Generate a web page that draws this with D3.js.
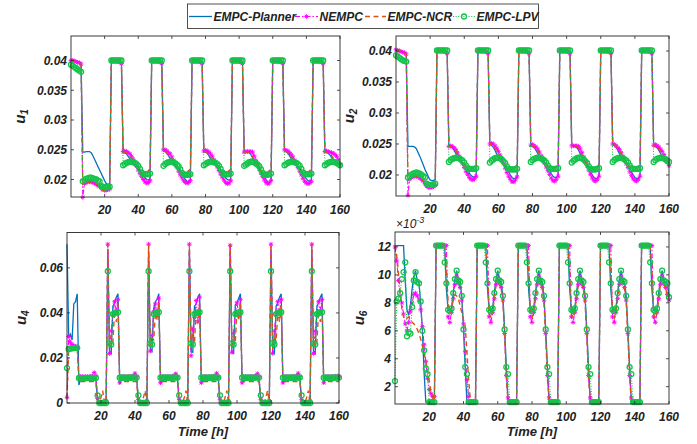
<!doctype html>
<html lang="en">
<head>
    <meta charset="UTF-8">
    <title>EMPC inputs</title>
    <script src="https://d3js.org/d3.v7.min.js" charset="utf-8"></script>
    <style>
        body { margin: 0; background: #fff; }
        text { font-family: "Liberation Sans", Arial, sans-serif; font-weight: bold; font-style: italic; fill: #222; }
    </style>
</head>
<body>
    <script>
        // hourly samples, t = 0..160 h, all values in units of 1e-3
        var u1Planner = [
            40.1,40.1,40.0,39.9,39.8,39.7,39.6, 24.6,24.6,24.7,24.7,24.7,24.5,24.0,23.4,22.8,22.2,21.6, 21.0,20.4,19.8,19.3,19.2,19.3,
            40.0,40.0,40.0,40.0,40.0,39.8,39.6, 24.5,24.5,24.3,23.9,23.5,23.1,22.8,22.6,22.4,22.1,21.7, 21.2,20.7,20.3,20.0,19.9,20.1,
            40.0,40.0,40.0,40.0,40.0,39.8,39.6, 24.8,24.7,24.4,24.0,23.5,23.0,22.6,22.4,22.2,21.9,21.5, 21.0,20.5,20.0,19.7,19.6,19.9,
            40.0,40.0,40.0,40.0,40.0,39.8,39.6, 24.6,24.6,24.4,24.0,23.5,23.1,22.8,22.6,22.4,22.1,21.7, 21.2,20.7,20.3,20.0,19.9,20.1,
            40.0,40.0,40.0,40.0,40.0,39.8,39.6, 24.6,24.6,24.6,24.5,24.2,23.6,23.0,22.6,22.3,22.0,21.6, 21.1,20.5,20.0,19.6,19.5,19.8,
            40.0,40.0,40.0,40.0,40.0,39.8,39.6, 24.8,24.7,24.4,24.0,23.5,23.0,22.6,22.4,22.2,21.9,21.5, 21.0,20.5,20.1,19.8,19.7,20.0,
            40.0,40.0,40.0,40.0,40.0,39.8,39.6, 24.6,24.6,24.4,24.1,23.7,23.3,23.0,22.8,22.6,22.5
        ];
        var u1NEMPC = [
            40.0,40.0,39.9,39.8,39.7,39.6,39.4, 17.0,19.3,19.5,19.6,19.6,19.6,19.5,19.4,19.2,19.0,18.8, 18.5,18.3,18.2,18.2,18.3,18.4,
            40.0,40.0,40.0,40.0,39.9,39.7,39.5, 24.7,24.8,24.7,24.5,24.3,23.9,23.4,22.8,22.2,21.6,21.0, 20.5,20.0,19.6,19.4,19.5,19.8,
            40.0,40.0,40.0,40.0,39.9,39.7,39.5, 25.0,25.0,24.8,24.5,24.3,23.8,23.2,22.6,22.0,21.4,20.8, 20.3,19.8,19.5,19.4,19.5,19.8,
            40.0,40.0,40.0,40.0,39.9,39.7,39.5, 24.8,24.9,24.8,24.6,24.3,23.9,23.3,22.7,22.1,21.5,20.9, 20.4,19.9,19.5,19.3,19.4,19.8,
            40.0,40.0,40.0,40.0,39.9,39.7,39.5, 24.6,24.7,24.7,24.7,24.7,24.6,23.9,23.2,22.5,21.8,21.1, 20.5,19.9,19.5,19.3,19.4,19.8,
            40.0,40.0,40.0,40.0,39.9,39.7,39.5, 25.0,24.9,24.8,24.5,24.2,23.8,23.2,22.6,22.0,21.4,20.8, 20.2,19.7,19.4,19.3,19.4,19.7,
            40.0,40.0,40.0,40.0,39.9,39.7,39.5, 24.7,24.8,24.7,24.6,24.5,24.4,24.2,23.9,23.3,22.5
        ];
        var u1NCR = [
            40.0,40.0,39.9,39.8,39.7,39.6,39.4, 19.2,19.3,19.4,19.5,19.6,19.6,19.5,19.4,19.3,19.1,18.8, 18.3,18.2,18.2,18.2,18.2,18.3,
            40.0,40.0,40.0,40.0,39.9,39.7,39.5, 24.6,24.6,24.5,24.3,24.0,23.6,23.1,22.6,22.1,21.7,21.4, 21.2,21.1,21.1,21.2,21.5,21.7,
            40.0,40.0,40.0,40.0,39.9,39.7,39.5, 24.8,24.7,24.5,24.2,23.9,23.5,23.0,22.5,22.0,21.6,21.3, 21.1,21.0,21.0,21.2,21.5,21.7,
            40.0,40.0,40.0,40.0,39.9,39.7,39.5, 24.7,24.7,24.5,24.3,24.0,23.6,23.1,22.6,22.1,21.7,21.4, 21.2,21.1,21.1,21.2,21.5,21.7,
            40.0,40.0,40.0,40.0,39.9,39.7,39.5, 24.6,24.6,24.6,24.5,24.3,23.8,23.2,22.6,22.1,21.7,21.4, 21.2,21.0,21.0,21.2,21.5,21.7,
            40.0,40.0,40.0,40.0,39.9,39.7,39.5, 24.8,24.7,24.5,24.2,23.9,23.5,23.0,22.5,22.0,21.6,21.3, 21.1,21.0,21.0,21.2,21.5,21.7,
            40.0,40.0,40.0,40.0,39.9,39.7,39.5, 24.6,24.6,24.5,24.3,24.0,23.6,23.1,22.6,22.1,21.8
        ];
        var u1LPV = [
            39.3,39.1,38.9,38.7,38.5,38.3,38.1, 19.7,19.9,20.1,20.2,20.3,20.3,20.2,20.1,20.0,19.8,19.7, 18.9,18.8,18.7,18.7,18.7,18.8,
            40.0,40.0,40.0,40.0,40.0,40.0,40.0, 22.4,22.6,22.8,22.9,23.0,23.0,22.9,22.8,22.6,22.3,21.8, 21.2,20.9,20.9,20.9,20.9,21.0,
            40.0,40.0,40.0,40.0,40.0,40.0,40.0, 22.3,22.6,22.8,22.9,23.0,23.0,22.9,22.7,22.5,22.2,21.7, 21.1,20.8,20.8,20.8,20.8,20.9,
            40.0,40.0,40.0,40.0,40.0,40.0,40.0, 22.4,22.6,22.8,22.9,23.0,23.0,22.9,22.8,22.6,22.3,21.8, 21.2,20.9,20.9,20.9,20.9,21.0,
            40.0,40.0,40.0,40.0,40.0,40.0,40.0, 22.3,22.5,22.7,22.9,23.0,23.0,22.9,22.7,22.5,22.2,21.7, 21.1,20.8,20.8,20.8,20.9,21.0,
            40.0,40.0,40.0,40.0,40.0,40.0,40.0, 22.4,22.6,22.8,22.9,23.0,23.0,22.9,22.8,22.6,22.3,21.8, 21.2,20.9,20.9,20.9,20.9,21.0,
            40.0,40.0,40.0,40.0,40.0,40.0,40.0, 22.4,22.6,22.8,22.9,23.0,23.0,22.9,22.8,22.6,22.4
        ];

        var u2Planner = [
            40.2,40.2,40.1,40.0,39.9,39.8,39.7, 24.6,24.6,24.6,24.6,24.5,24.2,23.6,23.0,22.3,21.6,20.9, 20.3,19.7,19.2,19.1,19.1,19.3,
            40.1,40.1,40.1,40.1,40.1,39.9,39.7, 24.6,24.6,24.4,24.0,23.5,23.0,22.6,22.3,22.0,21.7,21.3, 20.8,20.3,19.9,19.7,19.7,19.9,
            40.1,40.1,40.1,40.1,40.1,39.9,39.7, 24.9,24.8,24.5,24.0,23.4,22.9,22.5,22.2,21.9,21.5,21.0, 20.5,20.0,19.6,19.4,19.5,19.8,
            40.1,40.1,40.1,40.1,40.1,39.9,39.7, 24.7,24.7,24.4,24.0,23.5,23.0,22.6,22.3,22.0,21.7,21.3, 20.8,20.2,19.8,19.6,19.6,19.9,
            40.1,40.1,40.1,40.1,40.1,39.9,39.7, 24.7,24.7,24.6,24.4,24.0,23.4,22.8,22.4,22.1,21.7,21.2, 20.6,20.0,19.6,19.4,19.5,19.8,
            40.1,40.1,40.1,40.1,40.1,39.9,39.7, 24.9,24.8,24.5,24.0,23.4,22.9,22.5,22.2,21.9,21.5,21.0, 20.5,20.0,19.6,19.4,19.5,19.8,
            40.1,40.1,40.1,40.1,40.1,39.9,39.7, 24.6,24.6,24.4,24.0,23.5,23.0,22.6,22.4,22.2,22.0
        ];
        var u2NEMPC = [
            40.2,40.1,40.0,39.9,39.8,39.7,39.5, 16.7,19.3,19.6,19.7,19.8,19.8,19.7,19.5,19.3,19.0,18.6, 18.2,18.0,18.0,18.0,18.1,18.3,
            40.1,40.1,40.1,40.1,40.0,39.8,39.6, 24.6,24.7,24.6,24.4,24.1,23.6,23.0,22.4,21.8,21.2,20.6, 20.1,19.6,19.3,19.2,19.4,19.8,
            40.1,40.1,40.1,40.1,40.0,39.8,39.6, 25.0,25.1,25.0,24.7,24.3,23.8,23.2,22.5,21.8,21.1,20.4, 19.8,19.3,18.9,18.9,19.2,19.7,
            40.1,40.1,40.1,40.1,40.0,39.8,39.6, 24.8,24.9,24.7,24.5,24.2,23.7,23.1,22.5,21.9,21.3,20.7, 20.1,19.5,19.1,19.0,19.3,19.8,
            40.1,40.1,40.1,40.1,40.0,39.8,39.6, 24.7,24.7,24.7,24.7,24.6,24.2,23.6,22.9,22.2,21.5,20.8, 20.1,19.5,19.1,19.0,19.3,19.8,
            40.1,40.1,40.1,40.1,40.0,39.8,39.6, 25.0,24.9,24.7,24.4,24.1,23.6,23.0,22.4,21.8,21.2,20.5, 19.9,19.4,19.1,19.0,19.3,19.8,
            40.1,40.1,40.1,40.1,40.0,39.8,39.6, 24.8,24.9,24.7,24.5,24.2,23.8,23.3,22.7,22.1,21.5
        ];
        var u2NCR = [
            40.2,40.1,40.0,39.9,39.8,39.7,39.5, 19.2,19.4,19.6,19.7,19.8,19.8,19.7,19.5,19.3,19.0,18.6, 18.2,18.0,18.0,18.0,18.1,18.3,
            40.1,40.1,40.1,40.1,40.0,39.8,39.6, 24.6,24.6,24.5,24.3,24.0,23.5,23.0,22.5,22.0,21.6,21.3, 21.1,21.0,21.0,21.1,21.4,21.6,
            40.1,40.1,40.1,40.1,40.0,39.8,39.6, 24.9,24.9,24.7,24.4,24.0,23.5,22.9,22.4,21.9,21.5,21.2, 21.0,20.9,20.9,21.1,21.4,21.6,
            40.1,40.1,40.1,40.1,40.0,39.8,39.6, 24.7,24.7,24.6,24.3,24.0,23.5,23.0,22.5,22.0,21.6,21.3, 21.1,21.0,21.0,21.1,21.4,21.6,
            40.1,40.1,40.1,40.1,40.0,39.8,39.6, 24.7,24.7,24.7,24.6,24.4,23.9,23.3,22.7,22.1,21.7,21.3, 21.1,21.0,21.0,21.1,21.4,21.6,
            40.1,40.1,40.1,40.1,40.0,39.8,39.6, 24.9,24.8,24.6,24.3,24.0,23.5,23.0,22.5,22.0,21.6,21.3, 21.1,21.0,21.0,21.1,21.4,21.6,
            40.1,40.1,40.1,40.1,40.0,39.8,39.6, 24.6,24.6,24.5,24.3,24.0,23.5,23.0,22.5,22.0,21.7
        ];
        var u2LPV = [
            39.3,39.1,38.9,38.7,38.5,38.4,38.3, 19.6,19.8,20.0,20.2,20.3,20.4,20.3,20.2,20.0,19.8,19.6, 18.6,18.4,18.4,18.4,18.5,18.6,
            40.1,40.1,40.1,40.1,40.1,40.1,40.1, 22.1,22.4,22.6,22.7,22.8,22.8,22.7,22.5,22.3,22.0,21.5, 21.1,21.0,21.0,21.0,21.0,21.1,
            40.1,40.1,40.1,40.1,40.1,40.1,40.1, 22.0,22.3,22.5,22.7,22.8,22.8,22.7,22.5,22.2,21.9,21.4, 21.0,20.9,20.9,20.9,20.9,21.0,
            40.1,40.1,40.1,40.1,40.1,40.1,40.1, 22.1,22.4,22.6,22.7,22.8,22.8,22.7,22.5,22.3,22.0,21.5, 21.1,21.0,21.0,21.0,21.0,21.1,
            40.1,40.1,40.1,40.1,40.1,40.1,40.1, 22.0,22.3,22.5,22.7,22.8,22.8,22.7,22.5,22.2,21.9,21.4, 21.0,20.9,20.9,20.9,21.0,21.1,
            40.1,40.1,40.1,40.1,40.1,40.1,40.1, 22.1,22.4,22.6,22.7,22.8,22.8,22.7,22.5,22.3,22.0,21.5, 21.1,21.0,21.0,21.0,21.0,21.1,
            40.1,40.1,40.1,40.1,40.1,40.1,40.1, 22.1,22.4,22.6,22.7,22.8,22.8,22.7,22.5,22.3,22.1
        ];

        var u4Planner = [
            70.5,29.0,30.5,28.0,44.0,45.0,48.5, 8.0,10.8,10.9,10.9,10.9,10.9,10.9,10.9,10.9,10.9,10.8, 0,0,0,0,0,0,
            68.0,23.0,22.0,43.0,44.5,47.0,48.5, 8.5,10.9,10.9,10.9,10.9,10.9,10.9,10.9,10.9,10.9,10.8, 0,0,0,0,0,0,
            67.0,24.0,23.0,42.0,45.0,46.0,48.5, 8.5,10.9,10.9,10.9,10.9,10.9,10.9,10.9,10.9,10.9,10.8, 0,0,0,0,0,0,
            68.0,23.0,22.5,43.0,44.0,47.0,48.5, 8.5,10.9,10.9,10.9,10.9,10.9,10.9,10.9,10.9,10.9,10.8, 0,0,0,0,0,0,
            70.5,22.5,22.0,43.5,44.5,46.5,48.5, 8.5,10.9,10.9,10.9,10.9,10.9,10.9,10.9,10.9,10.9,10.8, 0,0,0,0,0,0,
            68.0,23.0,22.0,43.0,44.5,47.0,48.5, 8.5,10.9,10.9,10.9,10.9,10.9,10.9,10.9,10.9,10.9,10.8, 0,0,0,0,0,0,
            68.0,23.0,22.0,43.0,44.5,47.0,48.5, 8.5,10.9,10.9,10.9,10.9,10.9,10.9,10.9,10.9,10.9
        ];
        var u4NEMPC = [
            2.5,29.5,27.0,26.0,25.5,25.2,25.0, 11.5,11.8,11.7,11.6,11.8,11.7,11.6,11.8,12.0,13.5,12.2, 2.0,0.3,0.2,0.2,0.5,1.0,
            70.5,22.0,32.0,39.5,45.0,41.0,46.0, 9.0,11.6,11.8,11.7,11.6,11.8,11.7,11.9,12.0,13.2,11.8, 1.5,0.3,0.2,0.2,0.4,1.0,
            70.5,23.0,30.0,40.5,44.0,38.5,46.5, 9.0,11.7,11.8,11.6,11.7,11.8,11.6,11.8,12.1,13.0,11.7, 1.5,0.3,0.2,0.2,0.4,1.0,
            70.5,21.0,33.0,38.0,45.5,36.0,47.0, 9.0,11.6,11.8,11.7,11.6,11.8,11.7,11.9,12.0,13.2,11.8, 1.5,0.3,0.2,0.2,0.4,1.0,
            70.0,22.5,31.0,40.0,44.5,39.0,46.0, 9.0,11.7,11.8,11.6,11.7,11.8,11.6,11.8,12.1,13.0,11.7, 1.5,0.3,0.2,0.2,0.4,1.0,
            70.5,22.0,32.0,39.5,45.0,41.0,46.0, 9.0,11.6,11.8,11.7,11.6,11.8,11.7,11.9,12.0,13.2,11.8, 1.5,0.3,0.2,0.2,0.4,1.0,
            70.5,22.0,32.0,39.5,45.0,41.0,46.0, 9.0,11.6,11.8,11.7,11.6,11.8,11.7,11.9,12.0,11.8
        ];
        var u4NCR = [
            2.0,24.0,24.2,24.3,24.4,24.5,24.5, 9.5,9.5,9.5,9.5,9.5,9.5,9.5,9.5,9.5,9.5,9.5, 0,0,2.5,5.5,0,0,
            70.5,24.0,30.0,27.0,41.0,36.0,44.0, 9.5,9.5,9.5,9.5,9.5,9.5,9.5,9.5,9.5,9.5,9.5, 0,0,0,2.5,5.5,0,
            70.5,25.0,29.0,28.0,40.0,37.0,44.5, 9.5,9.5,9.5,9.5,9.5,9.5,9.5,9.5,9.5,9.5,9.5, 0,0,0,2.5,5.5,0,
            70.5,24.0,31.0,26.5,41.5,35.5,44.0, 9.5,9.5,9.5,9.5,9.5,9.5,9.5,9.5,9.5,9.5,9.5, 0,0,0,2.5,5.5,0,
            70.5,24.5,30.0,27.0,41.0,36.5,44.5, 9.5,9.5,9.5,9.5,9.5,9.5,9.5,9.5,9.5,9.5,9.5, 0,0,0,2.5,5.5,0,
            70.5,24.0,30.0,27.0,41.0,36.0,44.0, 9.5,9.5,9.5,9.5,9.5,9.5,9.5,9.5,9.5,9.5,9.5, 0,0,0,2.5,5.5,0,
            70.5,24.0,30.0,27.0,41.0,36.0,44.0, 9.5,9.5,9.5,9.5,9.5,9.5,9.5,9.5,9.5,9.5
        ];
        var u4LPV = [
            15.5,24.0,24.2,24.3,24.4,24.5,24.5, 11.0,11.0,11.0,11.0,11.0,11.1,11.1,11.1,11.1,11.1,11.1, 3.4,0,0,0,0,0,
            58.5,26.5,26.0,39.5,40.0,40.2,40.3, 11.2,11.2,11.2,11.2,11.2,11.2,11.2,11.2,11.3,11.3,11.3, 3.4,0,0,0,0,0,
            58.5,26.5,26.0,39.5,40.0,40.2,40.3, 11.2,11.2,11.2,11.2,11.2,11.2,11.2,11.2,11.3,11.3,11.3, 3.4,0,0,0,0,0,
            58.5,26.5,26.0,39.5,40.0,40.2,40.3, 11.2,11.2,11.2,11.2,11.2,11.2,11.2,11.2,11.3,11.3,11.3, 3.4,0,0,0,0,0,
            58.5,26.5,26.0,39.5,40.0,40.2,40.3, 11.2,11.2,11.2,11.2,11.2,11.2,11.2,11.2,11.3,11.3,11.3, 3.4,0,0,0,0,0,
            58.5,26.5,26.0,39.5,40.0,40.2,40.3, 11.2,11.2,11.2,11.2,11.2,11.2,11.2,11.2,11.3,11.3,11.3, 3.4,0,0,0,0,0,
            58.5,26.5,26.0,39.5,40.0,40.2,40.3, 11.2,11.2,11.2,11.2,11.2,11.2,11.2,11.2,11.3,11.3
        ];

        var u6Planner = [
            12.1,12.1,12.1,12.1,12.1,12.1,9.5, 7.5,7.1,7.8,9.0,9.9,10.3,9.6,9.4,8.0,6.0,3.0, 0.9,0.9,0.9,0.9,0.9,0.9,
            12.1,12.1,12.1,12.1,12.1,12.1,9.0, 7.5,7.4,7.6,8.7,9.7,10.3,9.6,9.5,8.5,6.1,3.4, 0.9,0.9,0.9,0.9,0.9,0.9,
            12.1,12.1,12.1,12.1,12.1,12.1,9.0, 7.5,7.4,7.6,8.7,9.7,10.3,9.6,9.5,8.5,6.1,3.4, 0.9,0.9,0.9,0.9,0.9,0.9,
            12.1,12.1,12.1,12.1,12.1,12.1,9.0, 7.5,7.4,7.6,8.7,9.7,10.3,9.6,9.5,8.5,6.1,3.4, 0.9,0.9,0.9,0.9,0.9,0.9,
            12.1,12.1,12.1,12.1,12.1,12.1,9.0, 7.5,7.4,7.6,8.7,9.7,10.3,9.6,9.5,8.5,6.1,3.4, 0.9,0.9,0.9,0.9,0.9,0.9,
            12.1,12.1,12.1,12.1,12.1,12.1,9.0, 7.5,7.4,7.6,8.7,9.7,10.3,9.6,9.5,8.5,6.1,3.4, 0.9,0.9,0.9,0.9,0.9,0.9,
            12.1,12.1,12.1,12.1,12.1,12.1,9.0, 7.5,7.4,7.6,8.7,9.7,10.3,9.6,9.5,9.4,8.4
        ];
        var u6NEMPC = [
            12.0,11.0,9.6,8.5,8.0,7.2,6.5, 6.0,6.6,7.4,8.0,8.6,8.7,8.5,8.2,7.5,6.3,5.0, 3.8,2.6,1.8,1.5,1.3,1.3,
            12.1,12.1,12.1,12.1,12.1,12.1,12.1, 7.0,6.6,7.3,8.3,9.3,9.9,9.4,9.1,8.2,6.5,4.5, 2.5,1.3,0.9,0.9,0.9,0.9,
            12.1,12.1,12.1,12.1,12.1,12.1,12.1, 7.0,6.6,7.3,8.3,9.3,9.9,9.4,9.1,8.2,5.8,2.8, 1.2,0.9,0.9,0.9,0.9,0.9,
            12.1,12.1,12.1,12.1,12.1,12.1,12.1, 7.0,6.6,7.3,8.3,9.3,9.9,9.4,9.1,8.2,5.8,2.8, 1.2,0.9,0.9,0.9,0.9,0.9,
            12.1,12.1,12.1,12.1,12.1,12.1,12.1, 7.0,6.6,7.3,8.3,9.3,9.9,9.4,9.1,8.2,5.8,2.8, 1.2,0.9,0.9,0.9,0.9,0.9,
            12.1,12.1,12.1,12.1,12.1,12.1,12.1, 7.0,6.6,7.3,8.3,9.3,9.9,9.4,9.1,8.2,5.8,2.8, 1.2,0.9,0.9,0.9,0.9,0.9,
            12.1,12.1,12.1,12.1,12.1,12.1,12.1, 7.0,6.6,7.3,8.3,9.3,9.9,9.4,9.1,8.6,8.2
        ];
        var u6NCR = [
            12.1,11.4,10.2,8.8,7.6,7.0,6.8, 6.9,7.0,6.8,6.6,6.5,6.3,6.1,5.8,5.4,4.9,4.4, 3.8,3.2,2.4,1.6,1.2,1.0,
            12.1,12.1,12.1,12.1,12.1,12.1,10.5, 8.0,7.3,7.6,8.2,8.6,8.5,8.3,7.8,7.3,6.8,6.3, 4.5,2.5,1.0,0.9,0.9,0.9,
            12.1,12.1,12.1,12.1,12.1,12.1,10.5, 7.2,6.9,7.4,8.4,9.3,9.8,9.3,9.0,8.0,5.6,2.6, 1.0,0.9,0.9,0.9,0.9,0.9,
            12.1,12.1,12.1,12.1,12.1,12.1,10.5, 7.2,6.9,7.4,8.4,9.3,9.8,9.3,9.0,8.0,5.6,2.6, 1.0,0.9,0.9,0.9,0.9,0.9,
            12.1,12.1,12.1,12.1,12.1,12.1,10.5, 7.2,6.9,7.4,8.4,9.3,9.8,9.3,9.0,8.0,5.6,2.6, 1.0,0.9,0.9,0.9,0.9,0.9,
            12.1,12.1,12.1,12.1,12.1,12.1,10.5, 7.2,6.9,7.4,8.4,9.3,9.8,9.3,9.0,8.0,5.6,2.6, 1.0,0.9,0.9,0.9,0.9,0.9,
            12.1,12.1,12.1,12.1,12.1,12.1,10.5, 7.2,6.9,7.4,8.4,9.3,9.8,9.3,9.0,8.6,8.2
        ];
        var u6LPV = [
            2.4,8.1,8.3,8.7,9.7,10.2,10.9, 5.6,5.9,5.8,7.7,9.6,10.2,9.5,9.4,8.1,6.0,4.6, 3.3,2.9,0.9,0.9,0.9,0.9,
            12.1,12.1,12.1,12.1,12.1,10.9,9.4, 7.5,7.4,7.6,8.7,9.7,10.3,9.6,9.5,8.5,6.1,3.4, 2.9,0.9,0.9,0.9,0.9,0.9,
            12.1,12.1,12.1,12.1,12.1,10.9,9.4, 7.5,7.4,7.6,8.7,9.7,10.3,9.6,9.5,8.5,6.1,3.4, 2.9,0.9,0.9,0.9,0.9,0.9,
            12.1,12.1,12.1,12.1,12.1,10.9,9.4, 7.5,7.4,7.6,8.7,9.7,10.3,9.6,9.5,8.5,6.1,3.4, 2.9,0.9,0.9,0.9,0.9,0.9,
            12.1,12.1,12.1,12.1,12.1,10.9,9.4, 7.5,7.4,7.6,8.7,9.7,10.3,9.6,9.5,8.5,6.1,3.4, 2.9,0.9,0.9,0.9,0.9,0.9,
            12.1,12.1,12.1,12.1,12.1,10.9,9.4, 7.5,7.4,7.6,8.7,9.7,10.3,9.6,9.5,8.5,6.1,3.4, 2.9,0.9,0.9,0.9,0.9,0.9,
            12.1,12.1,12.1,12.1,12.1,10.9,9.4, 7.5,7.4,7.6,8.7,9.7,10.3,9.6,9.5,9.4,8.4
        ];

        var seriesNames = ["EMPC-Planner", "NEMPC", "EMPC-NCR", "EMPC-LPV"];
        var xTicks = [20, 40, 60, 80, 100, 120, 140, 160];
        var u1Ticks = [20, 25, 30, 35, 40], u1TickLabels = ["0.02", "0.025", "0.03", "0.035", "0.04"];
        var u2Ticks = [20, 25, 30, 35, 40], u2TickLabels = ["0.02", "0.025", "0.03", "0.035", "0.04"];
        var u4Ticks = [0, 20, 40, 60], u4TickLabels = ["0", "0.02", "0.04", "0.06"];
        var u6Ticks = [2, 4, 6, 8, 10, 12], u6TickLabels = ["2", "4", "6", "8", "10", "12"];

        var width = 697, height = 444;
        var styles = [
            { color: "#0072BD", width: 1.3, dash: null },
            { color: "#FF00FF", width: 1.1, dash: "5,2,1.5,2" },
            { color: "#D95319", width: 1.4, dash: "5,3.5" },
            { color: "#14c44a", width: 1.1, dash: "1,1.6" }
        ];

        var panels = [
            { sub: "1", data: [u1Planner, u1NEMPC, u1NCR, u1LPV], left: 71, right: 340, top: 36, bottom: 197,
              yDomain: [17.06, 44.12], ticks: u1Ticks, labels: u1TickLabels, labelX: 25 },
            { sub: "2", data: [u2Planner, u2NEMPC, u2NCR, u2LPV], left: 396, right: 669, top: 36, bottom: 196,
              yDomain: [16.61, 42.42], ticks: u2Ticks, labels: u2TickLabels, labelX: 354 },
            { sub: "4", data: [u4Planner, u4NEMPC, u4NCR, u4LPV], left: 67, right: 339, top: 232.5, bottom: 403,
              yDomain: [0, 75.7], ticks: u4Ticks, labels: u4TickLabels, labelX: 26, xlabel: true },
            { sub: "6", data: [u6Planner, u6NEMPC, u6NCR, u6LPV], left: 395, right: 669, top: 232, bottom: 404,
              yDomain: [0.76, 13.07], ticks: u6Ticks, labels: u6TickLabels, labelX: 364, xlabel: true, exponent: true }
        ];

        var svg = d3.select("body").append("svg")
            .attr("width", width)
            .attr("height", height);

        var star = "M-2.3,0H2.3M0,-2.3V2.3M-1.7,-1.7L1.7,1.7M-1.7,1.7L1.7,-1.7";

        panels.forEach(function(p) {
            var x = d3.scaleLinear().domain([0, 160]).range([p.left, p.right]);
            var y = d3.scaleLinear().domain(p.yDomain).range([p.bottom, p.top]);
            var g = svg.append("g");

            var line = d3.line()
                .x(function(d, i) { return x(i); })
                .y(function(d) { return y(d); });

            p.data.forEach(function(values, k) {
                var s = styles[k];
                g.append("path")
                    .datum(values)
                    .attr("d", line)
                    .attr("fill", "none")
                    .attr("stroke", s.color)
                    .attr("stroke-width", s.width)
                    .attr("stroke-dasharray", s.dash);

                if (k === 1) { // NEMPC markers
                    g.selectAll(null)
                        .data(values)
                        .enter()
                        .append("path")
                        .attr("d", star)
                        .attr("transform", function(d, i) { return "translate(" + x(i) + "," + y(d) + ")"; })
                        .attr("stroke", s.color)
                        .attr("stroke-width", 0.9)
                        .attr("fill", "none");
                }
                if (k === 3) { // LPV markers
                    g.selectAll(null)
                        .data(values)
                        .enter()
                        .append("circle")
                        .attr("cx", function(d, i) { return x(i); })
                        .attr("cy", function(d) { return y(d); })
                        .attr("r", 2.5)
                        .attr("fill", "none")
                        .attr("stroke", s.color)
                        .attr("stroke-width", 1.3);
                }
            });

            // box and inward ticks on all four sides
            g.append("rect")
                .attr("x", p.left).attr("y", p.top)
                .attr("width", p.right - p.left).attr("height", p.bottom - p.top)
                .attr("fill", "none").attr("stroke", "#262626").attr("stroke-width", 0.9);

            xTicks.forEach(function(t) {
                g.append("line").attr("x1", x(t)).attr("x2", x(t)).attr("y1", p.bottom).attr("y2", p.bottom - 3)
                    .attr("stroke", "#262626").attr("stroke-width", 0.8);
                g.append("line").attr("x1", x(t)).attr("x2", x(t)).attr("y1", p.top).attr("y2", p.top + 3)
                    .attr("stroke", "#262626").attr("stroke-width", 0.8);
                g.append("text").attr("x", x(t)).attr("y", p.bottom + 17)
                    .attr("text-anchor", "middle").attr("font-size", 12).text(t);
            });

            p.ticks.forEach(function(t, i) {
                g.append("line").attr("x1", p.left).attr("x2", p.left + 3).attr("y1", y(t)).attr("y2", y(t))
                    .attr("stroke", "#262626").attr("stroke-width", 0.8);
                g.append("line").attr("x1", p.right).attr("x2", p.right - 3).attr("y1", y(t)).attr("y2", y(t))
                    .attr("stroke", "#262626").attr("stroke-width", 0.8);
                g.append("text").attr("x", p.left - 4).attr("y", y(t)).attr("dy", "0.36em")
                    .attr("text-anchor", "end").attr("font-size", 12).text(p.labels[i]);
            });

            var yl = g.append("text")
                .attr("transform", "translate(" + p.labelX + "," + ((p.top + p.bottom) / 2) + ") rotate(-90)")
                .attr("text-anchor", "middle")
                .attr("font-size", 15);
            yl.append("tspan").text("u");
            yl.append("tspan").attr("font-size", 10).attr("dy", 3).text(p.sub);

            if (p.xlabel) {
                g.append("text")
                    .attr("x", (p.left + p.right) / 2)
                    .attr("y", 435.5)
                    .attr("text-anchor", "middle")
                    .attr("font-size", 13)
                    .text("Time [h]");
            }
            if (p.exponent) {
                var ex = g.append("text")
                    .attr("x", p.left + 1)
                    .attr("y", p.top - 4)
                    .attr("font-size", 12)
                    .style("font-weight", "normal");
                ex.append("tspan").text("\u00d710");
                ex.append("tspan").attr("font-size", 9).attr("dy", -5).text("-3");
            }
        });

        // legend
        var legend = svg.append("g");
        legend.append("rect")
            .attr("x", 187.5).attr("y", 4).attr("width", 351).attr("height", 24.5)
            .attr("fill", "#fff").attr("stroke", "#262626").attr("stroke-width", 0.8);

        var legendSpots = [[189, 212], [295, 318], [365, 386], [453, 475]];
        seriesNames.forEach(function(name, k) {
            var s = styles[k], a = legendSpots[k][0], b = legendSpots[k][1], ly = 16.5;
            legend.append("line")
                .attr("x1", a).attr("x2", b).attr("y1", ly).attr("y2", ly)
                .attr("stroke", s.color).attr("stroke-width", s.width)
                .attr("stroke-dasharray", s.dash);
            if (k === 1) {
                legend.append("path").attr("d", star)
                    .attr("transform", "translate(" + (a + b) / 2 + "," + ly + ")")
                    .attr("stroke", s.color).attr("stroke-width", 0.9).attr("fill", "none");
            }
            if (k === 3) {
                legend.append("circle").attr("cx", (a + b) / 2).attr("cy", ly).attr("r", 2.5)
                    .attr("fill", "none").attr("stroke", s.color).attr("stroke-width", 1.3);
            }
            legend.append("text")
                .attr("x", b + 1.5).attr("y", 21)
                .attr("font-size", 12)
                .text(name);
        });
    </script>
</body>
</html>
